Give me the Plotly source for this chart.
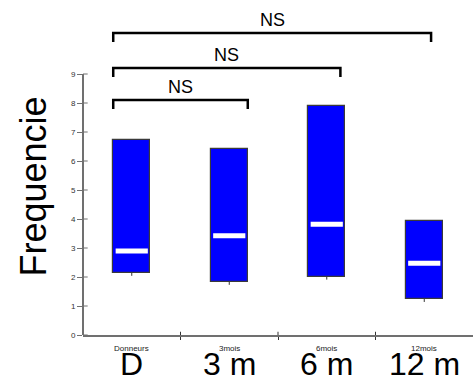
import plotly.graph_objects as go

# Data
groups_small = ["Donneurs", "3mois", "6mois", "12mois"]
groups_big = ["D", "3 m", "6 m", "12 m"]
low = [2.14, 1.83, 2.01, 1.24]
high = [6.72, 6.41, 7.90, 3.93]
median = [2.90, 3.42, 3.82, 2.47]
y_ticks = [0, 1, 2, 3, 4, 5, 6, 7, 8, 9]

# significance brackets
br_start = [-0.19, -0.19, -0.19]
br_end = [1.19, 2.14, 3.07]
br_level = [8.10, 9.21, 10.41]
br_label = ["NS", "NS", "NS"]

xs = list(range(len(groups_small)))
half = 0.19

fig = go.Figure()
fig.add_trace(go.Bar(
    x=xs, y=[h - l for h, l in zip(high, low)], base=low, width=2 * half,
    marker=dict(color="#0000ff", line=dict(color="#3a3a3a", width=1.2)),
    hoverinfo="skip", showlegend=False))

mx, my = [], []
for x, m in zip(xs, median):
    mx += [x - half + 0.025, x + half - 0.025, None]
    my += [m, m, None]
fig.add_trace(go.Scatter(x=mx, y=my, mode="lines",
                         line=dict(color="white", width=5), showlegend=False, hoverinfo="skip"))

wx, wy = [], []
for x, l in zip(xs, low):
    wx += [x, x, None]
    wy += [l, l - 0.1, None]
fig.add_trace(go.Scatter(x=wx, y=wy, mode="lines",
                         line=dict(color="#333333", width=1), showlegend=False, hoverinfo="skip"))

shapes = []
axis_col = "#707070"
shapes.append(dict(type="line", xref="paper", yref="y", x0=0, x1=0, y0=0, y1=max(y_ticks),
                   line=dict(color=axis_col, width=2)))
for t in y_ticks:
    shapes.append(dict(type="line", xref="paper", yref="y", x0=0, x1=0.012, y0=t, y1=t,
                       line=dict(color=axis_col, width=1)))
for t in [0.5, 1.5, 2.5]:
    shapes.append(dict(type="line", xref="x", yref="paper", x0=t, x1=t, y0=0, y1=0.01,
                       line=dict(color="#333333", width=1)))

annotations = []
for s, e, lev, lab in zip(br_start, br_end, br_level, br_label):
    tip = 0.31
    shapes.append(dict(type="path", xref="x", yref="y",
                       path=f"M {s},{lev - tip} L {s},{lev} L {e},{lev} L {e},{lev - tip}",
                       line=dict(color="black", width=2.5)))
    annotations.append(dict(x=(s + e) / 2, y=lev, xref="x", yref="y", text=lab, showarrow=False,
                            yanchor="bottom", yshift=1, font=dict(size=18, color="black")))

for x, bg in zip(xs, groups_big):
    annotations.append(dict(x=x, y=0, xref="x", yref="paper", yshift=-29, text=bg, showarrow=False,
                            yanchor="middle", font=dict(size=32, color="black")))
for x, sm in zip(xs, groups_small):
    annotations.append(dict(x=x, y=0, xref="x", yref="paper", yshift=-13, text=sm, showarrow=False,
                            yanchor="middle", font=dict(size=8, color="#222222")))

annotations.append(dict(x=0, y=(335 - 187) / 29.0, xref="paper", yref="y", xshift=-73,
                        text="Frequencie", showarrow=False, textangle=-90,
                        font=dict(size=36, color="black")))

fig.update_layout(
    width=473, height=376, autosize=False,
    margin=dict(l=83, r=0, t=10, b=41),
    paper_bgcolor="white", plot_bgcolor="white",
    font=dict(family="Liberation Sans, Arial, sans-serif"),
    xaxis=dict(range=[-0.5, 3.5], tickvals=[0.5, 1.5, 2.5], ticktext=["", "", ""],
               ticks="outside", ticklen=3, tickcolor="#333333", showline=True,
               linecolor=axis_col, linewidth=2, showgrid=False, zeroline=False, fixedrange=True),
    yaxis=dict(range=[0, (335 - 10) / 29.0], tickvals=y_ticks, ticks="outside", ticklen=5,
               tickcolor=axis_col, tickfont=dict(size=8, color="#333333"), showline=False,
               showgrid=False, zeroline=False, fixedrange=True),
    shapes=shapes, annotations=annotations, bargap=0,
)
fig.write_html("out.html", config={"displayModeBar": False},
               post_script="document.body.style.margin='0';document.body.style.overflow='hidden';")
